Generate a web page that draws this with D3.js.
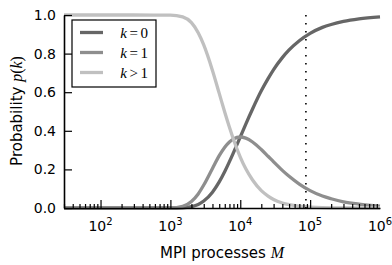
<!DOCTYPE html>
<html>
<head>
<meta charset="utf-8">
<script src="https://cdn.jsdelivr.net/npm/d3@7"></script>
<style>
  body { margin: 0; background: #fff; }
  svg { display: block; font-family: "DejaVu Sans", sans-serif; }
  .math { font-family: "Liberation Serif", serif; font-style: italic; }
</style>
</head>
<body>
<svg id="chart" width="392" height="265"></svg>
<script>
// processes M (x) and probabilities
const procs = [30, 100, 300, 1000, 1500, 2000, 2500, 3000, 4000, 5000, 6000, 7000, 8000,
  10000, 12000, 15000, 20000, 25000, 30000, 40000, 50000, 70000, 100000, 150000,
  200000, 300000, 500000, 1000000];
const pZero = [0, 0, 0, 0.0, 0.001, 0.007, 0.018, 0.036, 0.082, 0.135, 0.189, 0.240, 0.287,
  0.368, 0.435, 0.513, 0.607, 0.670, 0.717, 0.779, 0.819, 0.867, 0.905, 0.936,
  0.951, 0.967, 0.980, 0.990];
const pOne = [0, 0, 0, 0.0005, 0.009, 0.034, 0.073, 0.119, 0.205, 0.271, 0.315, 0.342, 0.358,
  0.368, 0.362, 0.342, 0.303, 0.268, 0.239, 0.195, 0.164, 0.124, 0.090, 0.062,
  0.048, 0.032, 0.020, 0.010];
const pMore = [1, 1, 1, 0.9995, 0.990, 0.960, 0.908, 0.845, 0.713, 0.594, 0.496, 0.418, 0.355,
  0.264, 0.203, 0.145, 0.090, 0.062, 0.044, 0.026, 0.017, 0.009, 0.005, 0.002,
  0.001, 0.0005, 0, 0];
const seriesNames = ["0", "1", "1"];
const seriesOps = ["=", "=", ">"];
const markerM = 87000;
const yTicks = [0, 0.2, 0.4, 0.6, 0.8, 1.0];
const xPowers = [2, 3, 4, 5, 6];

const svg = d3.select("#chart");
const x = d3.scaleLog().domain([30, 1e6]).range([64, 380]);
const y = d3.scaleLinear().domain([0, 1]).range([208, 15]);

const colors = ["#666666", "#8e8e8e", "#c0c0c0"];
const series = [pZero, pOne, pMore];

// curves
const line = d3.line()
  .x((d, i) => x(procs[i]))
  .y(d => y(d))
  .curve(d3.curveMonotoneX);

svg.append("g")
  .selectAll("path")
  .data(series)
  .join("path")
  .attr("fill", "none")
  .attr("stroke", (d, i) => colors[i])
  .attr("stroke-width", 3.3)
  .attr("d", line);

// dotted marker
svg.append("line")
  .attr("x1", x(markerM)).attr("x2", x(markerM))
  .attr("y1", y(1)).attr("y2", y(0))
  .attr("stroke", "#000")
  .attr("stroke-width", 1.6)
  .attr("stroke-dasharray", "1.6,6.4");

// axes
const xAxis = d3.axisBottom(x)
  .tickValues(d3.range(2, 7).flatMap(p => d3.range(1, 10).map(m => m * Math.pow(10, p - 1))).filter(v => v >= 30 && v <= 1e6))
  .tickSize(0)
  .tickFormat("");
const gx = svg.append("g").attr("transform", "translate(0,208)").call(xAxis);
gx.select(".domain").attr("stroke-width", 1.6);
gx.selectAll(".tick line")
  .attr("y2", d => Math.abs(Math.log10(d) - Math.round(Math.log10(d))) < 1e-9 ? -8 : -4)
  .attr("stroke-width", 1.2);

const yAxis = d3.axisLeft(y).tickValues(yTicks).tickSize(0).tickFormat(d3.format(".1f"));
const gy = svg.append("g").attr("transform", "translate(64,0)").call(yAxis);
gy.select(".domain").attr("stroke-width", 1.6);
gy.selectAll(".tick line").attr("x2", 8).attr("stroke-width", 1.2);
gy.selectAll(".tick text")
  .attr("x", -8)
  .attr("font-size", 14)
  .attr("font-family", "DejaVu Sans");

// x tick labels as 10^p
const xl = svg.append("g").selectAll("text")
  .data(xPowers)
  .join("text")
  .attr("x", p => x(Math.pow(10, p)))
  .attr("y", 231)
  .attr("text-anchor", "middle")
  .attr("font-size", 14);
xl.append("tspan").text("10");
xl.append("tspan").attr("dy", -6).attr("font-size", 10).text(p => p);

// axis labels
const xt = svg.append("text")
  .attr("x", 222).attr("y", 258)
  .attr("text-anchor", "middle")
  .attr("font-size", 15);
xt.append("tspan").text("MPI processes ");
xt.append("tspan").attr("class", "math").attr("font-size", 16).text("M");

const yt = svg.append("text")
  .attr("transform", "translate(22,111) rotate(-90)")
  .attr("text-anchor", "middle")
  .attr("font-size", 15);
yt.append("tspan").text("Probability ");
yt.append("tspan").attr("class", "math").attr("font-size", 16).text("p");
yt.append("tspan").attr("font-family", "Liberation Serif").attr("font-size", 16).text("(");
yt.append("tspan").attr("class", "math").attr("font-size", 16).text("k");
yt.append("tspan").attr("font-family", "Liberation Serif").attr("font-size", 16).text(")");

// legend
const legend = svg.append("g");
legend.append("rect")
  .attr("x", 72).attr("y", 20).attr("width", 84).attr("height", 67)
  .attr("fill", "#fff").attr("stroke", "#000").attr("stroke-width", 1.2);
const rows = legend.selectAll("g.row")
  .data(seriesNames)
  .join("g")
  .attr("class", "row")
  .attr("transform", (d, i) => `translate(0,${32.5 + i * 20})`);
rows.append("line")
  .attr("x1", 80).attr("x2", 103)
  .attr("stroke", (d, i) => colors[i])
  .attr("stroke-width", 3.3);
const lt = rows.append("text")
  .attr("x", 148).attr("y", 5)
  .attr("text-anchor", "end")
  .attr("font-size", 15)
  .attr("font-family", "Liberation Serif");
lt.append("tspan").attr("font-style", "italic").text("k");
lt.append("tspan").attr("dx", 2.5).text((d, i) => seriesOps[i]);
lt.append("tspan").attr("dx", 2.5).text(d => d);
</script>
</body>
</html>
